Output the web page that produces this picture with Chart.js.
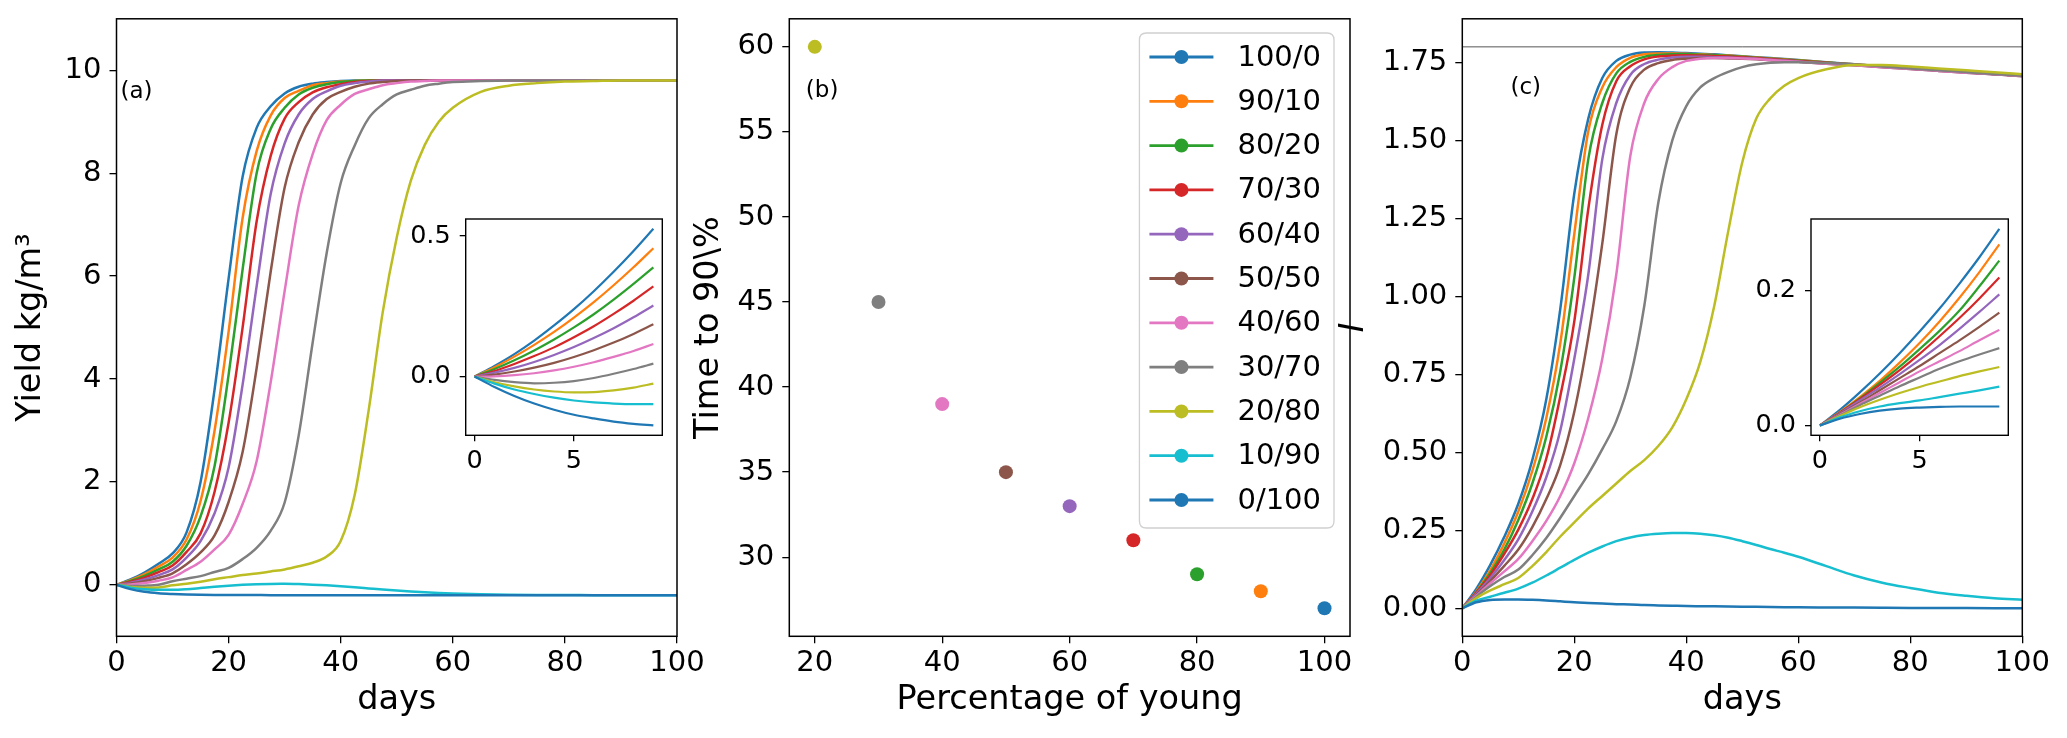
<!DOCTYPE html>
<html>
<head>
<meta charset="utf-8">
<script src="https://cdn.jsdelivr.net/npm/chart.js@4.4.0/dist/chart.umd.min.js"></script>
<style>
html,body{margin:0;padding:0;background:#fff;}
#wrap{position:relative;width:2067px;height:738px;overflow:hidden;background:#fff;}
#wrap canvas{position:absolute;}
</style>
</head>
<body>
<div id="wrap">
<canvas id="ca" width="710" height="738" style="left:0px;top:0px;"></canvas>
<canvas id="cb" width="700" height="738" style="left:680px;top:0px;"></canvas>
<canvas id="cc" width="737" height="738" style="left:1330px;top:0px;"></canvas>
<canvas id="ia" width="280" height="290" style="left:400px;top:200px;"></canvas>
<canvas id="ic" width="285" height="290" style="left:1745px;top:200px;"></canvas>
</div>
<script>
// ---------------- DATA ----------------
const seriesLabels = ['100/0','90/10','80/20','70/30','60/40','50/50','40/60','30/70','20/80','10/90','0/100'];

const days = [0,2.5,5,7.5,10,12.5,15,17.5,20,22.5,25,27.5,30,32.5,35,37.5,40,42.5,45,47.5,50,52.5,55,57.5,60,65,70,75,80,85,90,95,100];

// Panel (a): yield kg/m^3
const yieldA_100_0 = [0,0.104,0.24,0.41,0.61,1.02,2.0,3.8,5.95,7.93,8.88,9.3,9.55,9.68,9.74,9.77,9.79,9.8,9.8,9.8,9.8,9.8,9.8,9.8,9.8,9.8,9.8,9.8,9.8,9.8,9.8,9.8,9.8];
const yieldA_90_10 = [0,0.092,0.21,0.357,0.53,0.88,1.63,3.0,4.92,7.13,8.43,9.12,9.46,9.6,9.71,9.75,9.78,9.79,9.8,9.8,9.8,9.8,9.8,9.8,9.8,9.8,9.8,9.8,9.8,9.8,9.8,9.8,9.8];
const yieldA_80_20 = [0,0.075,0.175,0.3,0.45,0.76,1.33,2.31,4.08,6.13,8.0,8.86,9.27,9.53,9.66,9.73,9.77,9.79,9.8,9.8,9.8,9.8,9.8,9.8,9.8,9.8,9.8,9.8,9.8,9.8,9.8,9.8,9.8];
const yieldA_70_30 = [0,0.059,0.14,0.246,0.375,0.64,1.0,1.81,3.15,5.0,7.06,8.33,9.06,9.38,9.57,9.67,9.73,9.77,9.79,9.8,9.8,9.8,9.8,9.8,9.8,9.8,9.8,9.8,9.8,9.8,9.8,9.8,9.8];
const yieldA_60_40 = [0,0.041,0.105,0.19,0.3,0.53,0.85,1.39,2.28,3.89,5.8,7.59,8.58,9.14,9.44,9.59,9.7,9.75,9.78,9.8,9.8,9.8,9.8,9.8,9.8,9.8,9.8,9.8,9.8,9.8,9.8,9.8,9.8];
const yieldA_50_50 = [0,0.025,0.07,0.136,0.225,0.4,0.63,0.96,1.61,2.58,4.21,6.08,7.72,8.6,9.14,9.44,9.58,9.68,9.74,9.77,9.79,9.8,9.8,9.8,9.8,9.8,9.8,9.8,9.8,9.8,9.8,9.8,9.8];
const yieldA_40_60 = [0,0.008,0.035,0.08,0.145,0.29,0.45,0.69,0.97,1.57,2.4,3.93,5.71,7.37,8.37,9.03,9.33,9.54,9.63,9.71,9.75,9.78,9.79,9.8,9.8,9.8,9.8,9.8,9.8,9.8,9.8,9.8,9.8];
const yieldA_30_70 = [0,-0.022,-0.016,0.002,0.068,0.12,0.17,0.25,0.33,0.5,0.72,1.05,1.6,2.9,4.71,6.45,7.81,8.54,9.07,9.34,9.53,9.62,9.7,9.74,9.77,9.79,9.8,9.8,9.8,9.8,9.8,9.8,9.8];
const yieldA_20_80 = [0,-0.04,-0.056,-0.052,-0.01,0.02,0.06,0.11,0.15,0.19,0.22,0.26,0.3,0.36,0.43,0.55,0.85,1.75,3.4,5.3,6.75,7.85,8.55,9.0,9.27,9.58,9.7,9.75,9.78,9.79,9.8,9.8,9.8];
const yieldA_10_90 = [0,-0.054,-0.085,-0.097,-0.097,-0.085,-0.062,-0.038,-0.017,0.0,0.012,0.018,0.019,0.014,0.004,-0.01,-0.028,-0.048,-0.07,-0.092,-0.112,-0.13,-0.146,-0.16,-0.17,-0.185,-0.193,-0.197,-0.199,-0.2,-0.2,-0.2,-0.2];
const yieldA_0_100 = [0,-0.083,-0.136,-0.164,-0.178,-0.187,-0.192,-0.195,-0.197,-0.198,-0.199,-0.2,-0.2,-0.2,-0.2,-0.2,-0.2,-0.2,-0.2,-0.2,-0.2,-0.2,-0.2,-0.2,-0.2,-0.2,-0.2,-0.2,-0.2,-0.2,-0.2,-0.2,-0.2];

// Panel (c): I
const iC_100_0 = [0,0.062,0.139,0.229,0.335,0.475,0.67,0.96,1.33,1.57,1.7,1.755,1.775,1.782,1.783,1.782,1.78,1.778,1.776,1.773,1.77,1.767,1.764,1.761,1.758,1.751,1.744,1.737,1.731,1.725,1.719,1.713,1.707];
const iC_90_10 = [0,0.054,0.122,0.208,0.31,0.44,0.61,0.85,1.2,1.53,1.67,1.735,1.765,1.776,1.779,1.779,1.778,1.776,1.774,1.772,1.769,1.766,1.763,1.76,1.757,1.75,1.744,1.737,1.731,1.725,1.719,1.713,1.707];
const iC_80_20 = [0,0.051,0.113,0.188,0.283,0.4,0.55,0.76,1.06,1.44,1.62,1.715,1.752,1.768,1.774,1.776,1.776,1.775,1.773,1.771,1.768,1.765,1.762,1.759,1.756,1.75,1.743,1.737,1.731,1.725,1.719,1.713,1.707];
const iC_70_30 = [0,0.05,0.106,0.174,0.252,0.35,0.48,0.68,0.92,1.28,1.55,1.69,1.738,1.76,1.769,1.772,1.773,1.772,1.771,1.769,1.767,1.764,1.761,1.758,1.755,1.749,1.743,1.737,1.731,1.725,1.719,1.713,1.707];
const iC_60_40 = [0,0.047,0.097,0.155,0.221,0.31,0.42,0.57,0.8,1.07,1.44,1.62,1.71,1.745,1.759,1.766,1.768,1.768,1.767,1.766,1.764,1.762,1.759,1.756,1.753,1.747,1.742,1.736,1.73,1.724,1.718,1.712,1.707];
const iC_50_50 = [0,0.043,0.088,0.136,0.188,0.26,0.35,0.46,0.63,0.87,1.17,1.52,1.67,1.727,1.748,1.758,1.762,1.764,1.764,1.763,1.762,1.76,1.757,1.755,1.752,1.746,1.741,1.735,1.729,1.723,1.717,1.712,1.706];
const iC_40_60 = [0,0.04,0.08,0.118,0.158,0.215,0.28,0.36,0.465,0.61,0.8,1.07,1.45,1.62,1.697,1.735,1.755,1.762,1.764,1.764,1.763,1.761,1.758,1.755,1.752,1.746,1.741,1.735,1.729,1.723,1.717,1.712,1.706];
const iC_30_70 = [0,0.037,0.071,0.1,0.124,0.17,0.225,0.29,0.36,0.43,0.51,0.6,0.74,0.97,1.3,1.5,1.61,1.67,1.7,1.72,1.735,1.744,1.749,1.751,1.751,1.748,1.744,1.737,1.731,1.725,1.719,1.713,1.707];
const iC_20_80 = [0,0.0325,0.057,0.077,0.097,0.135,0.18,0.23,0.275,0.32,0.36,0.4,0.44,0.475,0.52,0.58,0.67,0.79,0.97,1.21,1.43,1.57,1.635,1.675,1.7,1.728,1.742,1.742,1.737,1.731,1.725,1.719,1.712];
const iC_10_90 = [0,0.0245,0.037,0.0495,0.063,0.082,0.105,0.13,0.155,0.178,0.198,0.215,0.227,0.235,0.239,0.241,0.241,0.239,0.234,0.226,0.215,0.203,0.19,0.178,0.165,0.135,0.105,0.082,0.065,0.05,0.04,0.032,0.027];
const iC_0_100 = [0,0.019,0.0265,0.028,0.028,0.027,0.025,0.022,0.019,0.017,0.015,0.013,0.012,0.01,0.009,0.008,0.007,0.0065,0.006,0.0055,0.005,0.0045,0.004,0.0035,0.003,0.0025,0.002,0.0015,0.001,0.0008,0.0005,0.0003,0.0002];
const refLevelC = 1.8;

// Insets: first days 0..9
const insetDays = [0,1,2,3,4,5,6,7,8,9];
const insA_100_0 = [0,0.038,0.08,0.128,0.182,0.24,0.304,0.373,0.447,0.526];
const insA_90_10 = [0,0.033,0.071,0.113,0.159,0.21,0.265,0.325,0.389,0.457];
const insA_80_20 = [0,0.027,0.058,0.093,0.132,0.175,0.222,0.274,0.33,0.389];
const insA_70_30 = [0,0.02,0.045,0.073,0.104,0.14,0.179,0.223,0.27,0.321];
const insA_60_40 = [0,0.014,0.031,0.052,0.077,0.105,0.137,0.172,0.211,0.253];
const insA_50_50 = [0,0.007,0.018,0.032,0.049,0.07,0.094,0.121,0.152,0.186];
const insA_40_60 = [0,0.001,0.005,0.012,0.022,0.035,0.051,0.07,0.091,0.116];
const insA_30_70 = [0,-0.012,-0.02,-0.024,-0.022,-0.016,-0.005,0.01,0.027,0.046];
const insA_20_80 = [0,-0.02,-0.035,-0.046,-0.053,-0.056,-0.055,-0.049,-0.039,-0.025];
const insA_10_90 = [0,-0.025,-0.046,-0.062,-0.075,-0.085,-0.092,-0.096,-0.098,-0.098];
const insA_0_100 = [0,-0.037,-0.069,-0.096,-0.118,-0.136,-0.149,-0.16,-0.168,-0.174];

const insC_100_0 = [0,0.023,0.049,0.077,0.107,0.139,0.173,0.21,0.249,0.291];
const insC_90_10 = [0,0.02,0.042,0.066,0.093,0.122,0.154,0.189,0.227,0.268];
const insC_80_20 = [0,0.019,0.04,0.063,0.087,0.113,0.14,0.17,0.206,0.244];
const insC_70_30 = [0,0.019,0.039,0.06,0.082,0.106,0.132,0.159,0.188,0.219];
const insC_60_40 = [0,0.018,0.037,0.056,0.076,0.097,0.119,0.143,0.168,0.194];
const insC_50_50 = [0,0.017,0.034,0.052,0.07,0.088,0.107,0.126,0.146,0.167];
const insC_40_60 = [0,0.016,0.032,0.048,0.064,0.08,0.095,0.11,0.126,0.1415];
const insC_30_70 = [0,0.015,0.03,0.044,0.058,0.071,0.084,0.095,0.105,0.1145];
const insC_20_80 = [0,0.014,0.027,0.038,0.048,0.057,0.065,0.073,0.08,0.0865];
const insC_10_90 = [0,0.012,0.021,0.028,0.033,0.037,0.042,0.047,0.052,0.0575];
const insC_0_100 = [0,0.01,0.017,0.022,0.025,0.0265,0.0275,0.028,0.028,0.028];

// Panel (b): time to 90%
const pctYoung = [100,90,80,70,60,50,40,30,20,10,0];
const timeTo90 = [27,28,29,31,33,35,39,45,60,null,null];

// Tick values
const ticksDays = [0,20,40,60,80,100];
const ticksYieldA = [0,2,4,6,8,10];
const ticksPctB = [20,40,60,80,100];
const ticksTimeB = [30,35,40,45,50,55,60];
const ticksIC = [0,0.25,0.5,0.75,1.0,1.25,1.5,1.75];
const ticksInsetX = [0,5];
const ticksInsetA = [0,0.5];
const ticksInsetC = [0,0.2];

// ---------------- STYLE / HELPERS ----------------
const seriesColors = ['#1f77b4','#ff7f0e','#2ca02c','#d62728','#9467bd','#8c564b','#e377c2','#7f7f7f','#bcbd22','#17becf','#1f77b4'];
const FONT = "'DejaVu Sans', sans-serif";
Chart.defaults.font.family = FONT;
Chart.defaults.color = '#000';

const rowsA = [yieldA_100_0,yieldA_90_10,yieldA_80_20,yieldA_70_30,yieldA_60_40,yieldA_50_50,yieldA_40_60,yieldA_30_70,yieldA_20_80,yieldA_10_90,yieldA_0_100];
const rowsC = [iC_100_0,iC_90_10,iC_80_20,iC_70_30,iC_60_40,iC_50_50,iC_40_60,iC_30_70,iC_20_80,iC_10_90,iC_0_100];
const rowsIA = [insA_100_0,insA_90_10,insA_80_20,insA_70_30,insA_60_40,insA_50_50,insA_40_60,insA_30_70,insA_20_80,insA_10_90,insA_0_100];
const rowsIC = [insC_100_0,insC_90_10,insC_80_20,insC_70_30,insC_60_40,insC_50_50,insC_40_60,insC_30_70,insC_20_80,insC_10_90,insC_0_100];

function lineSets(xs, rows, width){
  return rows.map((r,i)=>({
    label: seriesLabels[i],
    data: r.map((v,j)=>({x:xs[j], y:v})),
    borderColor: seriesColors[i], backgroundColor: seriesColors[i],
    borderWidth: width, pointRadius: 0, cubicInterpolationMode: 'monotone',
    fill: false, order: rows.length - i
  }));
}

function axis(o){
  const horiz = o.pos === 'bottom';
  return {
    type: 'linear', position: o.pos, min: o.min, max: o.max,
    afterBuildTicks: s => { s.ticks = o.ticks.map(v => ({value: v})); },
    afterFit: s => {
      if (horiz) s.height = o.size; else s.width = o.size;
      s.paddingLeft = 0; s.paddingRight = 0; s.paddingTop = 0; s.paddingBottom = 0;
    },
    grid: {display: true, drawOnChartArea: false, drawTicks: true, tickLength: o.tickLen, color: '#000', lineWidth: 1.3},
    border: {display: false},
    ticks: {autoSkip: false, maxRotation: 0, minRotation: 0, padding: o.pad, font: {size: o.fontSize}, color: '#000',
            callback: v => o.fmt(v)},
    title: o.title ? {display: true, text: o.title, color: '#000',
                      font: {size: o.titleSize, style: o.titleStyle || 'normal'},
                      padding: horiz ? {top: 0, bottom: o.titlePad} : {top: o.titlePad, bottom: 0}}
                   : {display: false}
  };
}

const framePlugin = {
  id: 'frame',
  beforeDraw(chart, args, opts){
    if (!opts.whiteBg) return;
    const a = chart.chartArea, c = chart.ctx;
    c.save(); c.fillStyle = '#fff'; c.fillRect(a.left, a.top, a.right - a.left, a.bottom - a.top); c.restore();
  },
  afterDraw(chart, args, opts){
    const a = chart.chartArea, c = chart.ctx;
    c.save();
    if (opts.hline !== undefined) {
      const y = chart.scales.y.getPixelForValue(opts.hline);
      c.strokeStyle = '#555'; c.lineWidth = 1;
      c.beginPath(); c.moveTo(a.left, y); c.lineTo(a.right, y); c.stroke();
    }
    c.strokeStyle = '#000'; c.lineWidth = opts.lw || 1.5;
    c.strokeRect(a.left, a.top, a.right - a.left, a.bottom - a.top);
    if (opts.tag) {
      c.font = opts.tag.size + 'px ' + FONT; c.fillStyle = '#000';
      c.textAlign = 'left'; c.textBaseline = 'alphabetic';
      c.fillText(opts.tag.text, chart.scales.x.getPixelForValue(opts.tag.x), chart.scales.y.getPixelForValue(opts.tag.y));
    }
    c.restore();
  }
};

const legendPlugin = {
  id: 'mplLegend',
  afterDraw(chart, args, opts){
    if (!opts.show) return;
    const c = chart.ctx, a = chart.chartArea, ds = chart.data.datasets;
    c.save();
    c.font = opts.fontSize + 'px ' + FONT;
    let tw = 0; ds.forEach(d => { tw = Math.max(tw, c.measureText(d.label).width); });
    const padL = 10, lineLen = 64, gap = 24, padR = 13, rowH = 44.3, padT = 24, padB = 28;
    const w = padL + lineLen + gap + tw + padR;
    const h = padT + rowH * (ds.length - 1) + padB;
    const x0 = a.right - opts.marginRight - w, y0 = a.top + opts.marginTop, r = 7;
    c.beginPath();
    c.moveTo(x0 + r, y0); c.lineTo(x0 + w - r, y0); c.quadraticCurveTo(x0 + w, y0, x0 + w, y0 + r);
    c.lineTo(x0 + w, y0 + h - r); c.quadraticCurveTo(x0 + w, y0 + h, x0 + w - r, y0 + h);
    c.lineTo(x0 + r, y0 + h); c.quadraticCurveTo(x0, y0 + h, x0, y0 + h - r);
    c.lineTo(x0, y0 + r); c.quadraticCurveTo(x0, y0, x0 + r, y0); c.closePath();
    c.fillStyle = 'rgba(255,255,255,0.8)'; c.fill();
    c.strokeStyle = '#d0d0d0'; c.lineWidth = 1.3; c.stroke();
    ds.forEach((d, i) => {
      const y = y0 + padT + rowH * i;
      c.strokeStyle = d.borderColor; c.lineWidth = 2.8;
      c.beginPath(); c.moveTo(x0 + padL, y); c.lineTo(x0 + padL + lineLen, y); c.stroke();
      c.fillStyle = d.backgroundColor;
      c.beginPath(); c.arc(x0 + padL + lineLen / 2, y, 7, 0, Math.PI * 2); c.fill();
      c.fillStyle = '#000'; c.textAlign = 'left'; c.textBaseline = 'middle';
      c.fillText(d.label, x0 + padL + lineLen + gap, y + 1);
    });
    c.restore();
  }
};
Chart.register(framePlugin, legendPlugin);

const baseOpts = (layoutPad, scales, plug) => ({
  responsive: false, animation: false, events: [],
  layout: {padding: layoutPad},
  scales: scales,
  plugins: Object.assign({legend: {display: false}, tooltip: {enabled: false}}, plug)
});

const fmtInt = v => String(v);

// ---------------- PANEL (a) ----------------
new Chart(document.getElementById('ca'), {
  type: 'line',
  data: {datasets: lineSets(days, rowsA, 2.5)},
  options: baseOpts({top: 18.8, right: 33, left: 0, bottom: 0}, {
    x: axis({pos: 'bottom', min: 0, max: 100, ticks: ticksDays, fmt: fmtInt, size: 101.7, tickLen: 7, pad: 3, fontSize: 29,
             title: 'days', titleSize: 33.5, titlePad: 18}),
    y: axis({pos: 'left', min: -1, max: 11, ticks: ticksYieldA, fmt: fmtInt, size: 116.5, tickLen: 7, pad: 8, fontSize: 29,
             title: 'Yield kg/m³', titleSize: 33.5, titlePad: 11.5})
  }, {frame: {tag: {text: '(a)', x: 0.7, y: 9.47, size: 23}}, mplLegend: {show: false}})
});

// ---------------- PANEL (b) ----------------
new Chart(document.getElementById('cb'), {
  type: 'scatter',
  data: {datasets: seriesLabels.map((lab, i) => ({
    label: lab,
    data: timeTo90[i] === null ? [] : [{x: pctYoung[i], y: timeTo90[i]}],
    borderColor: seriesColors[i], backgroundColor: seriesColors[i],
    pointRadius: 7, pointBorderWidth: 0, showLine: false, order: seriesLabels.length - i
  }))},
  options: baseOpts({top: 18.8, right: 30, left: 0, bottom: 0}, {
    x: axis({pos: 'bottom', min: 16, max: 104, ticks: ticksPctB, fmt: fmtInt, size: 101.7, tickLen: 7, pad: 3, fontSize: 29,
             title: 'Percentage of young', titleSize: 33.5, titlePad: 18}),
    y: axis({pos: 'left', min: 25.35, max: 61.65, ticks: ticksTimeB, fmt: fmtInt, size: 109.3, tickLen: 7, pad: 8, fontSize: 29,
             title: 'Time to 90\\%', titleSize: 33.5, titlePad: 9.4})
  }, {frame: {tag: {text: '(b)', x: 18.6, y: 57.05, size: 23}}, mplLegend: {show: true, fontSize: 29, marginRight: 16, marginTop: 14.2}})
});

// ---------------- PANEL (c) ----------------
new Chart(document.getElementById('cc'), {
  type: 'line',
  data: {datasets: lineSets(days, rowsC, 2.5)},
  options: baseOpts({top: 18.8, right: 44.7, left: 0, bottom: 0}, {
    x: axis({pos: 'bottom', min: 0, max: 100, ticks: ticksDays, fmt: fmtInt, size: 101.7, tickLen: 7, pad: 3, fontSize: 29,
             title: 'days', titleSize: 33.5, titlePad: 18}),
    y: axis({pos: 'left', min: -0.09, max: 1.89, ticks: ticksIC, fmt: v => v.toFixed(2), size: 132.3, tickLen: 7, pad: 8, fontSize: 29,
             title: 'I', titleSize: 33.5, titlePad: 3.8, titleStyle: 'italic'})
  }, {frame: {hline: refLevelC, tag: {text: '(c)', x: 8.6, y: 1.65, size: 23}}, mplLegend: {show: false}})
});

// ---------------- INSETS ----------------
new Chart(document.getElementById('ia'), {
  type: 'line',
  data: {datasets: lineSets(insetDays, rowsIA, 2.2)},
  options: baseOpts({top: 19, right: 17.7, left: 0, bottom: 0}, {
    x: axis({pos: 'bottom', min: -0.45, max: 9.45, ticks: ticksInsetX, fmt: fmtInt, size: 54.7, tickLen: 6, pad: 4.5, fontSize: 25.5}),
    y: axis({pos: 'left', min: -0.209, max: 0.561, ticks: ticksInsetA, fmt: v => v.toFixed(1), size: 65.7, tickLen: 6, pad: 9, fontSize: 25.5})
  }, {frame: {whiteBg: true, lw: 1.4}, mplLegend: {show: false}})
});

new Chart(document.getElementById('ic'), {
  type: 'line',
  data: {datasets: lineSets(insetDays, rowsIC, 2.2)},
  options: baseOpts({top: 19, right: 21.7, left: 0, bottom: 0}, {
    x: axis({pos: 'bottom', min: -0.45, max: 9.45, ticks: ticksInsetX, fmt: fmtInt, size: 54.7, tickLen: 6, pad: 4.5, fontSize: 25.5}),
    y: axis({pos: 'left', min: -0.0146, max: 0.3056, ticks: ticksInsetC, fmt: v => v.toFixed(1), size: 66, tickLen: 6, pad: 9, fontSize: 25.5})
  }, {frame: {whiteBg: true, lw: 1.4}, mplLegend: {show: false}})
});
</script>
</body>
</html>
